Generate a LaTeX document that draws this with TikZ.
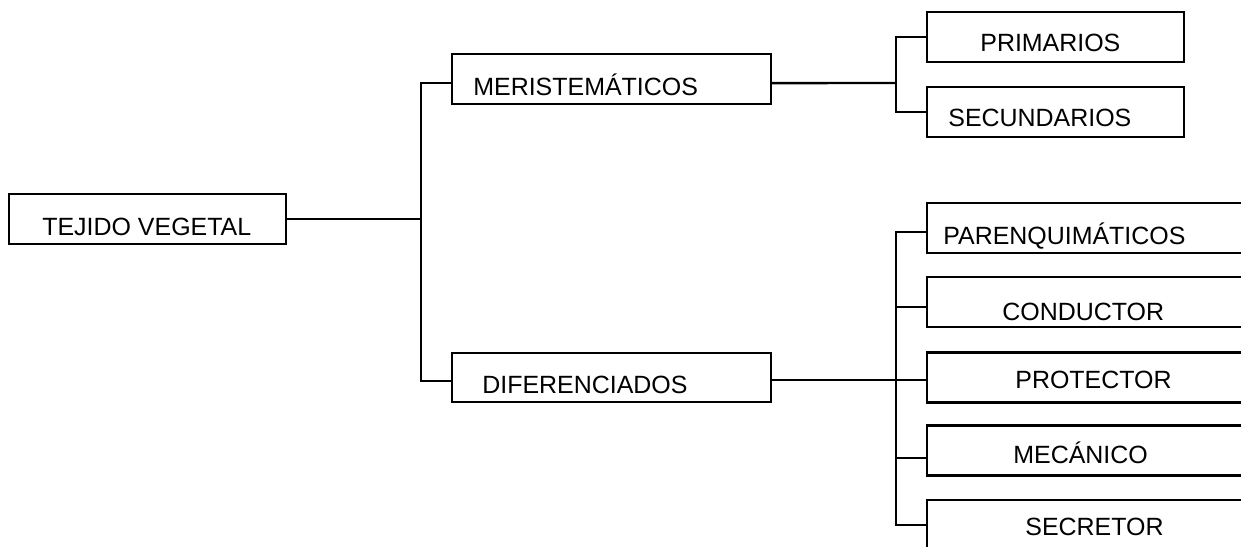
\documentclass[tikz,border=0pt]{standalone}
\usepackage{fontspec}
\setmainfont{Liberation Sans}

\tikzset{
	caja/.style={draw, line width=1.4pt, inner sep=0pt, minimum height=1cm},
	txt/.style={anchor=base west, inner sep=0pt, font=\fontsize{14.2}{16}\selectfont},
	linea/.style={line width=1.4pt}
}

\begin{document}
\begin{tikzpicture}[x=0.02cm, y=-0.02cm]

	\useasboundingbox (0,0) rectangle (1241,547);
	\clip (0,0) rectangle (1241,547);

	% Boxes

	\node[caja, minimum width=5.54cm] (tejido) at (147.5, 219) {};
	\node[caja, minimum width=6.38cm] (meri) at (611.5, 79) {};
	\node[caja, minimum width=6.38cm, minimum height=0.98cm] (difer) at (611.5, 377.5) {};
	\node[caja, minimum width=5.14cm] (prim) at (1055.5, 37) {};
	\node[caja, minimum width=5.14cm] (secun) at (1055.5, 112) {};
	\node[caja, minimum width=7.08cm] (paren) at (1104, 228) {};
	\node[caja, minimum width=7.08cm] (cond) at (1104, 302) {};
	\node[caja, minimum width=7.08cm] (prot) at (1104, 377.5) {};
	\node[caja, minimum width=7.08cm] (meca) at (1104, 450.5) {};
	\node[caja, minimum width=7.08cm] (secr) at (1104, 525) {};

	% Texts
	\node[txt] (tTejido) at (42, 236) {TEJIDO VEGETAL};
	\node[txt] (tMeri) at (473, 96) {MERISTEMÁTICOS};
	\node[txt] (tDifer) at (482, 393) {DIFERENCIADOS};
	\node[txt] (tPrim) at (980, 52) {PRIMARIOS};
	\node[txt] (tSecun) at (948, 127) {SECUNDARIOS};
	\node[txt] (tParen) at (943, 245) {PARENQUIMÁTICOS};
	\node[txt] (tCond) at (1002, 320) {CONDUCTOR};
	\node[txt] (tProt) at (1015, 388) {PROTECTOR};
	\node[txt] (tMeca) at (1013, 463) {MECÁNICO};
	\node[txt] (tSecr) at (1025, 535) {SECRETOR};

	% Branch points
	\coordinate (jA) at (421, 219);
	\coordinate (jB) at (896, 83);
	\coordinate (jC) at (896, 380);

	% Connectors
	\draw[linea] (tejido.east) -- (jA);
	\draw[linea] ([yshift=-2.3pt]meri.west) -| (jA) |- ([yshift=-2pt]difer.west);
	\draw[linea] ([yshift=-2.3pt]meri.east) -- (jB);
	\draw[linea] (prim.west) -| (jB) |- (secun.west);
	\draw[linea] ([yshift=-1.4pt]difer.east) -- ([yshift=-1.4pt]prot.west);
	\draw[linea] ([yshift=-2.3pt]paren.west) -| (jC) |- (secr.west);
	\draw[linea] ([yshift=-2.8pt]cond.west) -| (jC);
	\draw[linea] ([yshift=-4.3pt]meca.west) -| (jC);
\end{tikzpicture}
\end{document}
